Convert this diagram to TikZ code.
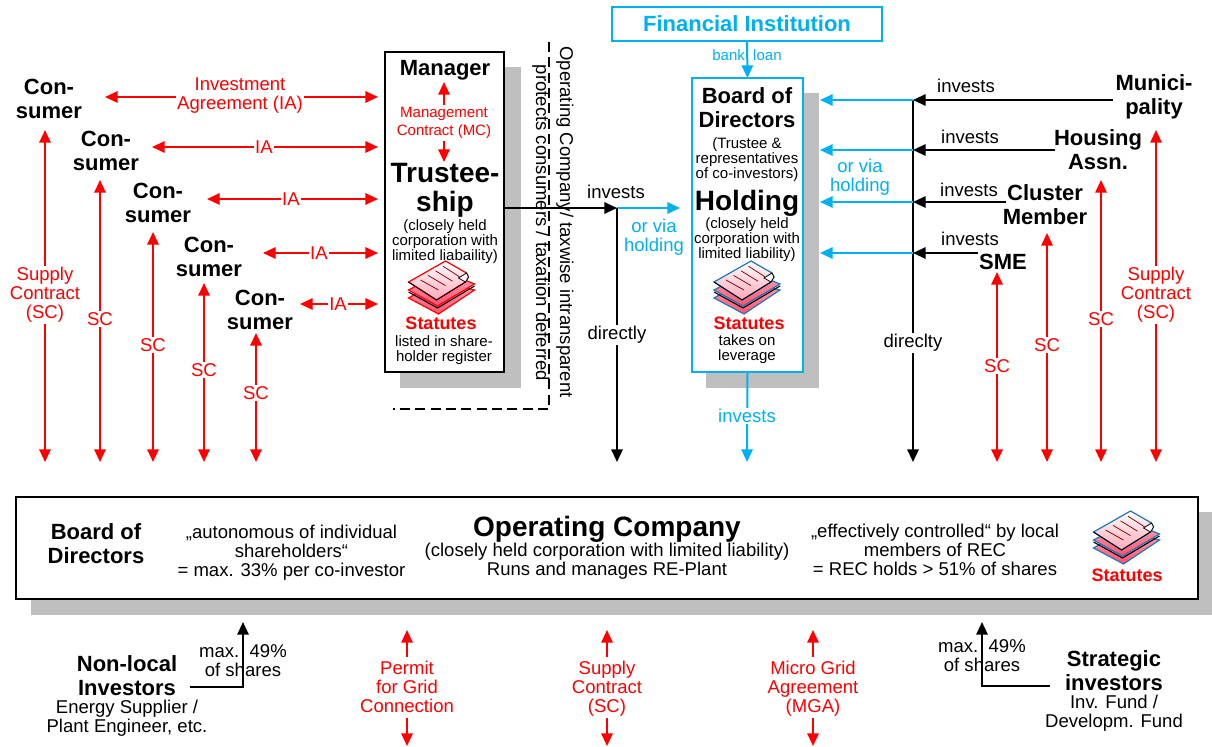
\documentclass[tikz,border=0pt]{standalone}
\usepackage{fontspec}
\setmainfont{Liberation Sans}
\usetikzlibrary{arrows.meta,calc}
\definecolor{skyc}{HTML}{00B0F0}
\definecolor{redc}{HTML}{FF0000}
\definecolor{shad}{HTML}{BFBFBF}
\definecolor{iconblue}{HTML}{1F78B4}
\definecolor{pinkA}{HTML}{FFE6EA}
\definecolor{pinkB}{HTML}{FFA8B8}
\definecolor{pinkC}{HTML}{FF5070}
\tikzset{
  tip/.style={-{Triangle[length=9.5pt,width=8.5pt]}},
  bitip/.style={{Triangle[length=9.5pt,width=8.5pt]}-{Triangle[length=9.5pt,width=8.5pt]}},
  blk/.style={line width=1.5pt,black},
  redl/.style={line width=1.5pt,redc},
  cyl/.style={line width=1.5pt,skyc},
  txt/.style={inner sep=0pt,outer sep=0pt,align=center},
  head/.style={txt,font=\bfseries\fontsize{16.5}{18}\selectfont},
  huge/.style={txt,font=\bfseries\fontsize{21}{22}\selectfont},
  small/.style={txt,font=\fontsize{11.25}{11.25}\selectfont},
  body/.style={txt,font=\fontsize{13.9}{14.25}\selectfont},
  redt/.style={body,text=redc},
  cyt/.style={body,text=skyc},
  stat/.style={txt,text=redc,font=\bfseries\fontsize{13.5}{14}\selectfont},
  lab/.style={fill=white,inner sep=1pt},
  shadow/.style={fill=shad,draw=none,outer sep=0pt},
  frame/.style={draw=black,line width=1.7pt,fill=white,outer sep=0pt},
  cframe/.style={draw=skyc,line width=1.5pt,fill=white,outer sep=0pt},
}
\newcommand{\stackicon}[3]{%
\begin{scope}[shift={(#1,#2)}]
  \draw[draw=#3,line width=0.9pt,top color=pinkB,bottom color=pinkC,shading angle=0]
    (-33,11) -- (-3,-6) -- (33,3) -- (-3,27) -- cycle;
  \draw[draw=#3,line width=0.9pt,top color=pinkB,bottom color=pinkC]
    (-33,3) -- (2,-16) -- (33,-3) -- (-4,19) -- cycle;
  \draw[black,line width=0.8pt] (-33,5) -- (-4,21) -- (33,-1);
  \draw[draw=#3,line width=0.9pt,top color=white,bottom color=pinkB]
    (-33,-5) -- (4,-26) -- (25,-14) -- (27,-10) -- (24,-5) -- (-5,13) -- cycle;
  \draw[black,line width=0.7pt] (-33,-5) -- (-5,13) -- (24,-5);
  \draw[draw=black,line width=0.6pt,fill=white] (17,-9) -- (25,-14) -- (27,-10) -- (24,-5) -- cycle;
  \foreach \d in {0,1,2,3}
    \draw[red!50!black,line width=0.55pt] ($(-21,-7)+(\d*7.5,-\d*4.6)$) -- ($(-3,3)+(\d*7,-\d*4.4)$);
\end{scope}}
\begin{document}
\begin{tikzpicture}[x=0.75pt,y=-0.75pt]
\useasboundingbox (0,0) rectangle (1212,746);
% shadows
\fill[shadow] (400,67) rectangle (521,388);
\fill[shadow] (706,93) rectangle (819,388);
\fill[shadow] (31,512) rectangle (1212,615);
% boxes
\node[frame,minimum width=89.25pt,minimum height=240pt] (tbox) at (444.5,212) {};
\node[cframe,minimum width=83.25pt,minimum height=220.5pt] (hbox) at (747.5,225) {};
\node[frame,minimum width=886.5pt,minimum height=76.5pt] (obox) at (607,548) {};
\node[cframe,line width=1pt,minimum width=202.5pt,minimum height=25.5pt,font=\bfseries\fontsize{16.5}{18}\selectfont,text=skyc,inner sep=0pt] (fin) at (747,24) {Financial Institution};
% dashed bracket
\coordinate (dA) at (549,42); \coordinate (dB) at (549,409); \coordinate (dC) at (393,409);
\draw[black,line width=0.9pt,dash pattern=on 7.5pt off 4pt] (dA) -- (dB) -- (dC);
\node[body,rotate=-90] (rot1) at (565,222) {Operating Company/ taxwise intransparent};
\node[body,rotate=-90] (rot2) at (541,223) {protects consumers / taxation deferred};
% consumers
\node[head] (c1) at (49,99) {Con-\\sumer};
\node[head] (c2) at (106,151) {Con-\\sumer};
\node[head] (c3) at (158,203) {Con-\\sumer};
\node[head] (c4) at (209,257) {Con-\\sumer};
\node[head] (c5) at (260,310) {Con-\\sumer};
% IA connectors
\foreach \n/\ax/\ay in {1/105/97,2/152/147,3/207/199,4/263/253,5/300/304}{
  \coordinate (ial\n) at (\ax,\ay);
  \coordinate (iar\n) at (378,\ay);
  \draw[redl,bitip] (ial\n) -- (iar\n);
}
\node[redt,lab] (ia1) at (240,96) {Investment\\Agreement (IA)};
\node[redt,lab] (ia2) at (264,147) {IA};
\node[redt,lab] (ia3) at (291,199) {IA};
\node[redt,lab] (ia4) at (319,253) {IA};
\node[redt,lab] (ia5) at (338,304) {IA};
% SC connectors
\foreach \n/\sx/\st in {1/45/130,2/100/180,3/153/232,4/204/283,5/256/333,6/997/272,7/1047/233,8/1101/180,9/1156/130}{
  \coordinate (sct\n) at (\sx,\st);
  \coordinate (scb\n) at (\sx,462);
  \draw[redl,bitip] (sct\n) -- (scb\n);
}
\node[redt,lab] (sc1) at (45,295) {Supply\\Contract\\(SC)};
\node[redt,lab] (sc2) at (100,319) {SC};
\node[redt,lab] (sc3) at (153,345) {SC};
\node[redt,lab] (sc4) at (204,370) {SC};
\node[redt,lab] (sc5) at (256,393) {SC};
\node[redt,lab] (sc6) at (997,366) {SC};
\node[redt,lab] (sc7) at (1047,345) {SC};
\node[redt,lab] (sc8) at (1101,319) {SC};
\node[redt,lab] (sc9) at (1156,295) {Supply\\Contract\\(SC)};
% trusteeship box content
\node[head] (mgr) at (445,70) {Manager};
\node[txt,text=redc,font=\fontsize{11.25}{13.5}\selectfont] (mc) at (444,123) {Management\\Contract (MC)};
\node[huge,font=\bfseries\fontsize{21}{21.75}\selectfont] (tru) at (445,190) {Trustee-\\ship};
\coordinate (mcu) at (444,105); \coordinate (mcut) at (444,82);
\coordinate (mcd) at (444,141); \coordinate (mcdt) at (444,162);
\draw[redl,tip] (mcu) -- (mcut);
\draw[redl,tip] (mcd) -- (mcdt);
\node[small] (tsub) at (445,241.5) {(closely held\\corporation with\\limited liabaility)};
\stackicon{441.5}{287}{redc}
\node[stat] (tstat) at (441,323) {Statutes};
\node[small] (treg) at (444,350.5) {listed in share-\\holder register};
% holding box content
\node[head] (bod) at (747,108) {Board of\\Directors};
\node[small] (bsub) at (747,160) {(Trustee \&\\representatives\\of co-investors)};
\node[huge] (hold) at (747,203) {Holding};
\node[small] (hsub) at (747,240) {(closely held\\corporation with\\limited liability)};
\stackicon{747}{287}{iconblue}
\node[stat] (hstat) at (749,323) {Statutes};
\node[small] (htake) at (747,349.5) {takes on\\leverage};
% bank loan
\node[small,text=skyc] (bank) at (747,55) {bank\ \ loan};
\draw[cyl,tip] (fin.south) -- (hbox.north);
% left investing
\coordinate (inv) at (617,208);
\coordinate (inv2) at (680,208);
\coordinate (dir) at (617,462);
\draw[cyl,tip] (inv) -- (inv2);
\draw[blk,tip] (tbox.east |- inv) -- (inv);
\draw[blk,tip] (inv) -- (dir);
\node[body] (invl) at (616,192) {invests};
\node[cyt] (orl) at (654,237) {or via\\holding};
\node[body,lab] (dirl) at (617,335) {directly};
% holding down
\coordinate (hd) at (747,462);
\draw[cyl,tip] (hbox.south) -- (hd);
\node[cyt,lab] (hdl) at (747,416) {invests};
% right investors
\node[head] (muni) at (1154,97) {Munici-\\pality};
\node[head] (hous) at (1098,150) {Housing\\Assn.};
\node[head] (clus) at (1045,205) {Cluster\\Member};
\node[head] (sme) at (1003,262) {SME};
\coordinate (rtop) at (913,100); \coordinate (rbot) at (913,462);
\draw[blk,tip] (rtop) -- (rbot);
\foreach \n/\yy/\xs in {a/100/1113,b/150/1055,c/202/1006,d/253/978}{
  \coordinate (rj\n) at (913,\yy);
  \coordinate (rs\n) at (\xs,\yy);
  \coordinate (rc\n) at (820,\yy);
  \draw[cyl,tip] (rj\n) -- (rc\n);
  \draw[blk,tip] (rs\n) -- (rj\n);
}
\node[body] (i1) at (966,86) {invests};
\node[body] (i2) at (970,137) {invests};
\node[body] (i3) at (969,190) {invests};
\node[body] (i4) at (970,239) {invests};
\node[cyt] (orr) at (860,177) {or via\\holding};
\node[body,lab] (dirr) at (913,343) {direclty};
% operating company
\node[head] (obod) at (96,544) {Board of\\Directors};
\node[body] (oaut) at (291.5,553) {„autonomous of individual\\shareholders“\\= max. 33\% per co-investor};
\node[txt,font=\bfseries\fontsize{21}{22}\selectfont] (otit) at (607,529) {Operating Company};
\node[body] (osub) at (607,561) {(closely held corporation with limited liability)\\Runs and manages RE-Plant};
\node[body] (oeff) at (935,550) {„effectively controlled“ by local\\members of REC\\= REC holds > 51\% of shares};
\stackicon{1126.5}{537}{iconblue}
\node[stat] (ostat) at (1127,575) {Statutes};
% bottom row
\node[head] (nl) at (127,676) {Non-local\\Investors};
\node[body] (nls) at (127,718.5) {Energy Supplier /\\Plant Engineer, etc.};
\coordinate (nls0) at (190,687); \coordinate (nlc) at (243,687); \coordinate (nlt) at (243,622);
\draw[blk,tip] (nls0) -- (nlc) -- (nlt);
\node[body] (nlm) at (243,661) {max.\ \ 49\%\\of shares};
\node[head] (si) at (1114,671) {Strategic\\investors};
\node[body] (sis) at (1114,713) {Inv. Fund /\\Developm. Fund};
\coordinate (si0) at (1050,686); \coordinate (sic) at (982,686); \coordinate (sit) at (982,622);
\draw[blk,tip] (si0) -- (sic) -- (sit);
\node[body] (sim) at (982,656) {max.\ \ 49\%\\of shares};
\foreach \n/\xx in {p/407,q/607,r/813}{
  \coordinate (u\n a) at (\xx,657); \coordinate (u\n b) at (\xx,630);
  \coordinate (d\n a) at (\xx,718); \coordinate (d\n b) at (\xx,746);
  \draw[redl,tip] (u\n a) -- (u\n b);
  \draw[redl,tip] (d\n a) -- (d\n b);
}
\node[redt] (perm) at (407,687) {Permit\\for Grid\\Connection};
\node[redt] (supp) at (607,688.5) {Supply\\Contract\\(SC)};
\node[redt] (micr) at (813,688.5) {Micro Grid\\Agreement\\(MGA)};
\end{tikzpicture}
\end{document}
